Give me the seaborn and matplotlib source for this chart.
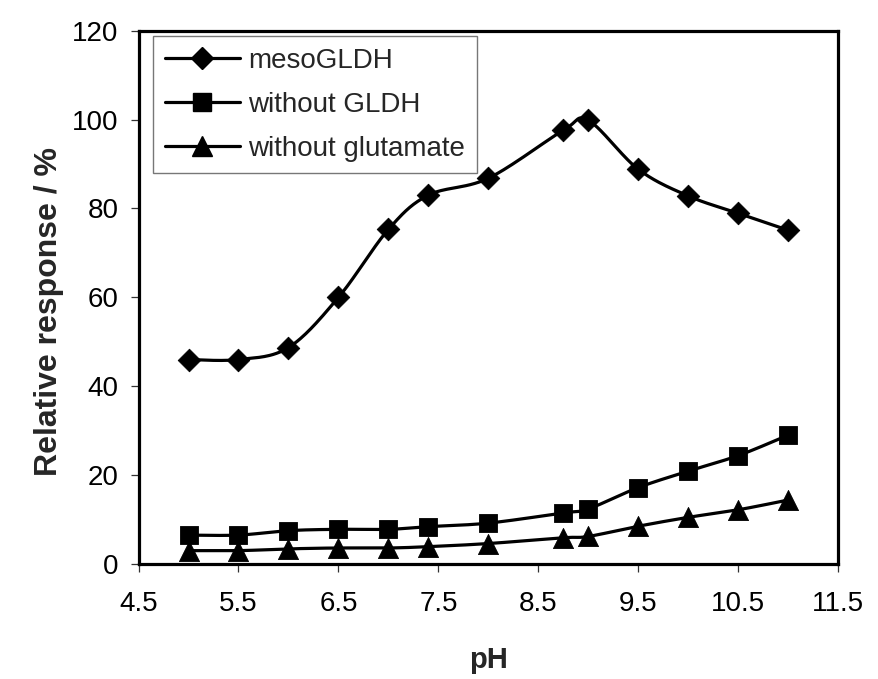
import numpy as np
import pandas as pd
import matplotlib
matplotlib.use("Agg")
import matplotlib.pyplot as plt
import seaborn as sns
from matplotlib.lines import Line2D

# ---- data ----
ph = [5.0, 5.5, 6.0, 6.5, 7.0, 7.4, 8.0, 8.75, 9.0, 9.5, 10.0, 10.5, 11.0]
meso_gldh = [46.0, 46.0, 48.7, 60.0, 75.3, 83.0, 86.8, 97.6, 99.8, 88.8, 82.8, 78.9, 75.1]
without_gldh = [6.5, 6.5, 7.5, 7.8, 7.8, 8.4, 9.2, 11.5, 12.4, 17.2, 20.9, 24.4, 29.0]
without_glutamate = [3.0, 3.0, 3.4, 3.6, 3.6, 3.9, 4.6, 5.9, 6.2, 8.5, 10.5, 12.2, 14.4]
series_names = ["mesoGLDH", "without GLDH", "without glutamate"]
x_ticks = [4.5, 5.5, 6.5, 7.5, 8.5, 9.5, 10.5, 11.5]
y_ticks = [0, 20, 40, 60, 80, 100, 120]


def smooth(x, y, n=30):
    """Excel-style smoothed line (Catmull-Rom Bezier) through the data points."""
    x = np.asarray(x, float)
    y = np.asarray(y, float)
    P = np.column_stack([x, y])
    out = []
    m = len(P)
    t = np.linspace(0, 1, n)[:, None]
    for i in range(m - 1):
        p0 = P[i - 1] if i > 0 else P[i]
        p1 = P[i]
        p2 = P[i + 1]
        p3 = P[i + 2] if i + 2 < m else P[i + 1]
        c1 = p1 + (p2 - p0) / 6.0
        c2 = p2 - (p3 - p1) / 6.0
        seg = ((1 - t) ** 3) * p1 + 3 * ((1 - t) ** 2) * t * c1 + 3 * (1 - t) * t ** 2 * c2 + t ** 3 * p2
        out.append(seg if i == 0 else seg[1:])
    s = np.vstack(out)
    return s[:, 0], s[:, 1]


sns.set_theme(style="white")
plt.rcParams["font.family"] = ["Liberation Sans", "DejaVu Sans"]

fig = plt.figure(figsize=(8.79, 6.79), dpi=100)
ax = fig.add_axes([0.1576, 0.1694, 0.7961, 0.7854])

markers = ["D", "s", "^"]
msizes = [11.5, 13.0, 14.5]
all_series = [meso_gldh, without_gldh, without_glutamate]

handles = []
for name, vals, mk, ms in zip(series_names, all_series, markers, msizes):
    sx, sy = smooth(ph, vals)
    curve = pd.DataFrame({"pH": sx, "value": sy})
    sns.lineplot(data=curve, x="pH", y="value", sort=False, estimator=None,
                 color="black", linewidth=2.3, ax=ax, legend=False)
    pts = pd.DataFrame({"pH": ph, "value": vals})
    sns.scatterplot(data=pts, x="pH", y="value", marker=mk, s=ms ** 2,
                    color="black", edgecolor="black", linewidth=0.6, ax=ax,
                    legend=False, zorder=5)
    handles.append(Line2D([], [], color="black", linewidth=2.3, marker=mk,
                          markersize=ms, markeredgecolor="black"))

ax.set_xlim(4.5, 11.5)
ax.set_ylim(0, 120)
ax.set_xticks(x_ticks)
ax.set_xticklabels([f"{v:g}" for v in x_ticks])
ax.set_yticks(y_ticks)
ax.set_yticklabels([str(v) for v in y_ticks])

for sp in ax.spines.values():
    sp.set_visible(True)
    sp.set_color("black")
    sp.set_linewidth(2.3)

ax.tick_params(axis="both", direction="out", length=5.5, width=0.9,
               color="#333333", labelsize=20, labelcolor="black")
ax.tick_params(axis="x", pad=14, bottom=True)
ax.tick_params(axis="y", pad=9, left=True)

ax.set_xlabel("pH", fontsize=21, fontweight="bold", labelpad=21)
ax.set_ylabel("Relative response / %", fontsize=23, fontweight="bold")
ax.yaxis.set_label_coords(-0.106, 0.474)

leg = ax.legend(handles, series_names, loc="upper left",
                bbox_to_anchor=(0.021, 0.99), borderaxespad=0,
                fontsize=20, frameon=True, fancybox=False,
                handlelength=2.7, handletextpad=0.3, labelspacing=0.65,
                borderpad=0.42)
leg.get_frame().set_edgecolor("#555555")
leg.get_frame().set_linewidth(1.0)

fig.savefig("out.png", dpi=100)
